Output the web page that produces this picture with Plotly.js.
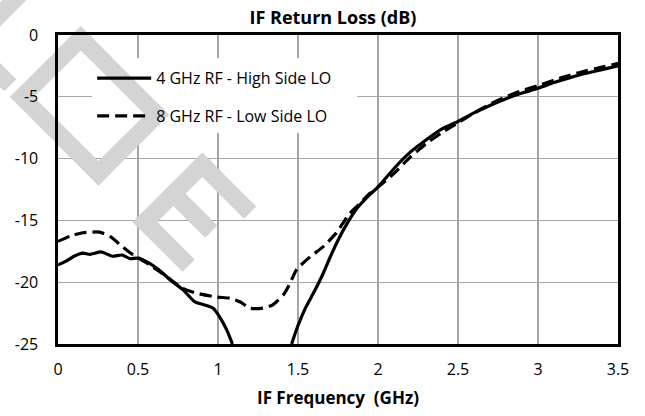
<!DOCTYPE html>
<html><head><meta charset="utf-8">
<script src="https://cdn.plot.ly/plotly-3.0.1.min.js"></script>
<style>html,body{margin:0;padding:0;background:#fff}</style>
</head><body><div id="chart" style="width:645px;height:416px"></div>
<script>
const seriesNames = ['4 GHz RF - High Side LO', '8 GHz RF - Low Side LO'];
const highSideX = [0, 0.05, 0.10, 0.156, 0.20, 0.27, 0.34, 0.40, 0.45, 0.50, 0.575, 0.64, 0.70, 0.78, 0.856, 0.906, 0.97, 1.01, 1.056, 1.09, null,
  1.46, 1.50, 1.55, 1.60, 1.65, 1.70, 1.75, 1.80, 1.87, 1.95, 2.0, 2.1, 2.2, 2.3, 2.4, 2.5, 2.6, 2.7, 2.8, 2.9, 3.0, 3.1, 3.2, 3.3, 3.4, 3.5];
const highSideY = [-18.6, -18.3, -17.9, -17.65, -17.75, -17.55, -17.9, -17.8, -18.1, -18.05, -18.5, -19.1, -19.8, -20.6, -21.6, -21.8, -22.1, -22.8, -23.9, -25, null,
  -25, -23.5, -22.0, -20.8, -19.5, -18.0, -16.6, -15.4, -14.0, -12.9, -12.3, -10.8, -9.5, -8.5, -7.6, -7.0, -6.3, -5.7, -5.15, -4.7, -4.3, -3.85, -3.45, -3.1, -2.8, -2.5];
const lowSideX = [0, 0.08, 0.156, 0.26, 0.325, 0.40, 0.47, 0.575, 0.68, 0.78, 0.87, 0.99, 1.075, 1.14, 1.2, 1.28, 1.34, 1.41, 1.45, 1.49, 1.575, 1.66, 1.74, 1.82, 1.89,
  1.95, 2.0, 2.1, 2.2, 2.3, 2.4, 2.5, 2.6, 2.7, 2.8, 2.9, 3.0, 3.1, 3.2, 3.3, 3.4, 3.5];
const lowSideY = [-16.7, -16.25, -16.0, -15.95, -16.3, -17.1, -17.8, -18.6, -19.55, -20.5, -20.9, -21.2, -21.3, -21.6, -22.1, -22.1, -21.85, -21.0, -20.1, -19.0, -17.95, -17.1, -16.0, -14.5, -13.6,
  -12.8, -12.3, -11.2, -9.9, -8.8, -7.9, -7.1, -6.3, -5.6, -5.0, -4.5, -4.1, -3.65, -3.25, -2.9, -2.6, -2.3];
const xTickVals = [0, 0.5, 1, 1.5, 2, 2.5, 3, 3.5];
const xTickText = ['0', '0.5', '1', '1.5', '2', '2.5', '3', '3.5'];
const yTickVals = [0, -5, -10, -15, -20, -25];
const yTickText = ['0', '-5', '-10', '-15', '-20', '-25'];

const FONT = '"Open Sans", Lato, sans-serif';
const W = 645, H = 416, ML = 58, MR = 27, MT = 35, MB = 72;
const PW = W - ML - MR, PH = H - MT - MB;
const X0 = 0, X1 = 3.5, Y0 = -25, Y1 = 0;
function toPaper(px, py) { return [(px - ML) / PW, (H - MB - py) / PH]; }
function toData(px, py) { return [X0 + (px - ML) / PW * (X1 - X0), Y0 + (H - MB - py) / PH * (Y1 - Y0)]; }

// watermark: blocky letters tilted 45 degrees (decoration, pixel geometry)
const R2 = Math.SQRT1_2;
function barPath(conv, ox, oy, u0, u1, v0, v1) {
  const pts = [[u0, v0], [u1, v0], [u1, v1], [u0, v1]].map(([u, v]) =>
    conv(ox + (u + v) * R2, oy + (u - v) * R2));
  return 'M' + pts.map(p => p[0].toFixed(4) + ',' + p[1].toFixed(4)).join(' L') + ' Z';
}
const wmBars = [
  [10, 97, -74, -57, 0, 100], [10, 97, -74, -8, 0, 17],
  [10, 97, 0, 17, 0, 100], [10, 97, 0, 125, 83, 100], [10, 97, 108, 125, 0, 100], [10, 97, 0, 125, 0, 17],
  [133, 222, 0, 17, 0, 98], [133, 222, 0, 76, 81, 98], [133, 222, 0, 62, 40, 57], [133, 222, 0, 70, 0, 17]
];
const WM = '#d4d4d4';
const lgA = toData(92, 133), lgB = toData(357, 58);
const shapes = []
  .concat(wmBars.map(b => ({type: 'path', xref: 'paper', yref: 'paper', layer: 'below',
     path: barPath(toPaper, ...b), fillcolor: WM, line: {width: 0}})))
  .concat([{type: 'rect', xref: 'x', yref: 'y', x0: lgA[0], y0: lgA[1], x1: lgB[0], y1: lgB[1],
     fillcolor: '#fff', line: {width: 0}, layer: 'between'}])
  .concat(wmBars.map(b => ({type: 'path', xref: 'x', yref: 'y', layer: 'between',
     path: barPath(toData, ...b), fillcolor: WM, line: {width: 0}})));

const traces = [
  {x: highSideX, y: highSideY, name: seriesNames[0], type: 'scatter', mode: 'lines', connectgaps: false,
   legendgroup: 'a', line: {color: '#000', width: 3.2, shape: 'spline', smoothing: 0.6}},
  {x: lowSideX, y: lowSideY, name: seriesNames[1], type: 'scatter', mode: 'lines',
   legendgroup: 'b', line: {color: '#000', width: 3.2, dash: '12px,6px', shape: 'spline', smoothing: 0.6}}
];
const layout = {
  width: W, height: H,
  margin: {l: ML, r: MR, t: MT, b: MB},
  paper_bgcolor: '#fff', plot_bgcolor: 'rgba(0,0,0,0)',
  font: {family: FONT, color: '#000', size: 16},
  title: {text: '<b>IF Return Loss (dB)</b>', font: {family: FONT, size: 18, color: '#000'},
          x: 0.491, xref: 'paper', xanchor: 'center', y: 0.957, yref: 'container', yanchor: 'middle'},
  showlegend: true,
  legend: {x: 0.061, y: 0.915, xanchor: 'left', yanchor: 'top', bgcolor: 'rgba(0,0,0,0)', borderwidth: 0,
           font: {family: FONT, size: 16, color: '#000'}, traceorder: 'grouped', tracegroupgap: 14, itemwidth: 54},
  shapes: shapes,
  xaxis: {range: [X0, X1], tickmode: 'array', tickvals: xTickVals, ticktext: xTickText,
          showgrid: true, gridcolor: '#a6a6a6', gridwidth: 1.3, zeroline: false,
          showline: true, mirror: true, linecolor: '#000', linewidth: 2.6, ticks: '',
          ticklabelstandoff: 9, tickfont: {family: FONT, size: 16, color: '#000'},
          title: {text: '<b>IF Frequency\u00a0 (GHz)</b>', font: {family: FONT, size: 17, color: '#000'}, standoff: 14}},
  yaxis: {range: [Y0, Y1], tickmode: 'array', tickvals: yTickVals, ticktext: yTickText,
          showgrid: true, gridcolor: '#a6a6a6', gridwidth: 1.3, zeroline: false,
          showline: true, mirror: true, linecolor: '#000', linewidth: 2.6, ticks: '',
          ticklabelstandoff: 14, tickfont: {family: FONT, size: 16, color: '#000'}}
};
Plotly.newPlot('chart', traces, layout, {staticPlot: true, displayModeBar: false});
</script>
</body></html>
